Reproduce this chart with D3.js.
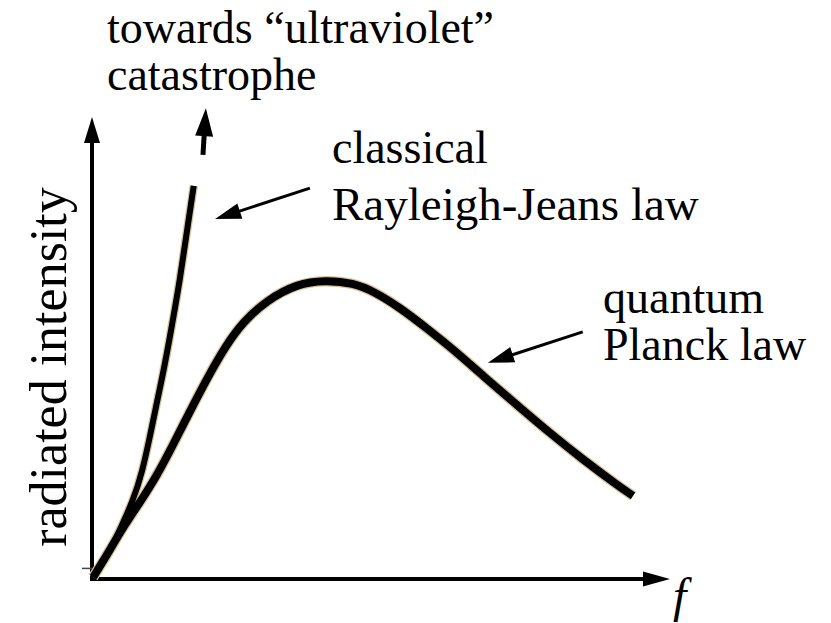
<!DOCTYPE html>
<html>
<head>
<meta charset="utf-8">
<script src="https://cdn.jsdelivr.net/npm/d3@7/dist/d3.min.js"></script>
<style>
  html, body { margin: 0; padding: 0; background: #fff; }
  svg { display: block; }
</style>
</head>
<body>
<svg id="chart" width="831" height="623"></svg>
<script>
// Planck law: radiated intensity vs frequency (arbitrary units)
const planckF = [0.2, 1.4, 3.1, 5.4, 8.3, 11.2, 14.0, 17.0, 19.9, 23.2, 26.1, 30.3, 35.5, 40.3, 45.2, 49.0, 53.3, 57.6, 62.8, 67.7, 73.5, 79.2, 85.0, 90.8, 93.6];
const planckI = [0.4, 2.8, 6.3, 11.3, 16.6, 22.3, 29.0, 36.4, 43.4, 50.6, 55.6, 60.4, 63.9, 64.7, 64.1, 62.1, 58.7, 54.6, 49.4, 43.9, 37.7, 31.6, 25.8, 20.4, 18.0];

// Classical Rayleigh-Jeans law (diverges at high frequency)
const rjF = [0.2, 2.6, 4.8, 7.1, 8.7, 10.0, 11.2, 12.6, 14.0, 15.2, 16.4, 17.6];
const rjI = [0.4, 4.8, 10.6, 16.9, 23.2, 30.7, 38.1, 46.3, 56.1, 64.7, 75.1, 85.1];

const yTicks = [2.4];

const svg = d3.select("#chart");
const FS = 46;
const SERIF = '"Liberation Serif"';

const x = d3.scaleLinear().domain([0, 100]).range([92, 670]);
const y = d3.scaleLinear().domain([0, 100]).range([579, 117]);

// Filled arrowhead pointing from (x0,y0) toward tip (x1,y1)
function arrowHead(g, x0, y0, x1, y1, len, half) {
  const dx = x1 - x0, dy = y1 - y0, d = Math.hypot(dx, dy);
  const ux = dx / d, uy = dy / d;
  const bx = x1 - ux * len, by = y1 - uy * len;
  g.append("path")
    .attr("d", `M${x1},${y1}L${bx - uy * half},${by + ux * half}L${bx + uy * half},${by - ux * half}Z`)
    .attr("fill", "#000");
  return [bx, by];
}

function arrow(g, f0, i0, f1, i1, width, len, half) {
  const x0 = x(f0), y0 = y(i0), x1 = x(f1), y1 = y(i1);
  const [bx, by] = arrowHead(g, x0, y0, x1, y1, len, half);
  g.append("line")
    .attr("x1", x0).attr("y1", y0)
    .attr("x2", bx + (x1 - x0) * 0.01).attr("y2", by + (y1 - y0) * 0.01)
    .attr("stroke", "#000").attr("stroke-width", width);
}

// Axes
const axX = svg.append("g").attr("transform", `translate(0,${y(0)})`)
  .call(d3.axisBottom(x).tickValues([]).tickSizeOuter(0));
axX.select(".domain").attr("stroke", "#000").attr("stroke-width", 4)
  .attr("d", `M${x(0) - 2},0H${x(100) - 26}`);

const axY = svg.append("g").attr("transform", `translate(${x(0)},0)`)
  .call(d3.axisLeft(y).tickValues(yTicks).tickSize(10).tickFormat("").tickSizeOuter(0));
axY.select(".domain").attr("stroke", "#000").attr("stroke-width", 4)
  .attr("d", `M0,${y(0) + 2}V${y(100) + 26}`);
axY.selectAll(".tick line").attr("stroke", "#444").attr("stroke-width", 1.5);

const deco = svg.append("g");
arrowHead(deco, x(0), y(0), x(100), y(0), 27, 7.5);
arrowHead(deco, x(0), y(0), x(0), y(100), 26, 8);

// Curves
const line = d3.line().x(d => x(d[0])).y(d => y(d[1])).curve(d3.curveBasis);
const planck = planckF.map((f, i) => [f, planckI[i]]);
const rj = rjF.map((f, i) => [f, rjI[i]]);

const curves = svg.append("g").attr("fill", "none");
curves.append("path").datum(rj).attr("d", line)
  .attr("stroke", "#d8c39c").attr("stroke-width", 8.5);
curves.append("path").datum(planck).attr("d", line)
  .attr("stroke", "#d8c39c").attr("stroke-width", 10.5);
curves.append("path").datum(rj).attr("d", line)
  .attr("stroke", "#000").attr("stroke-width", 6);
curves.append("path").datum(planck).attr("d", line)
  .attr("stroke", "#000").attr("stroke-width", 8);

// Annotation arrows
const ann = svg.append("g");
arrow(ann, 19.2, 91.8, 19.7, 101.9, 5, 28, 9);     // towards divergence
arrow(ann, 37.7, 84.6, 21.3, 77.9, 3, 26, 8);      // Rayleigh-Jeans pointer
arrow(ann, 84.9, 53.5, 68.5, 46.8, 3, 26, 8);      // Planck pointer

// Labels
const labels = svg.append("g");
function label(t, px, py, size) {
  return labels.append("text").attr("x", px).attr("y", py)
    .style("font-family", SERIF).style("font-size", (size || FS) + "px")
    .style("fill", "#000").text(t);
}
label("towards \u201Cultraviolet\u201D", 107, 43);
label("catastrophe", 107, 90);
label("classical", 332, 163);
label("Rayleigh-Jeans law", 332, 220, 47);
label("quantum", 603, 313);
label("Planck law", 603, 360);

label("radiated intensity", 0, 0, 52)
  .attr("transform", "translate(66,367) rotate(-90)")
  .attr("text-anchor", "middle");

label("f", 673, 612, 48).style("font-style", "italic");
</script>
</body>
</html>
